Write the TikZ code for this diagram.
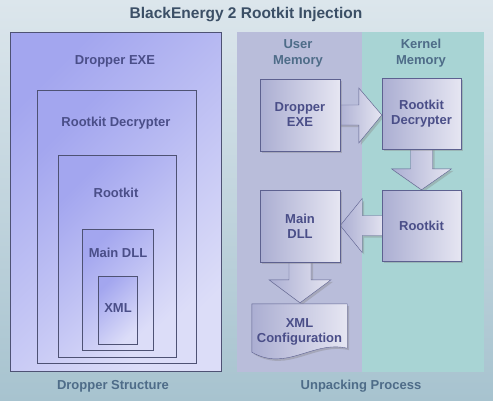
\documentclass[tikz,border=0pt]{standalone}
\usepackage{fontspec}
\setmainfont{Liberation Sans}
\usetikzlibrary{%
  calc,%
  shadows,% wg. drop shadow
  positioning%
}

\definecolor{bgtop}{HTML}{DCE6EC}
\definecolor{bgbot}{HTML}{A7C3CF}
\definecolor{lavdark}{HTML}{A3A6EF}
\definecolor{lavlight}{HTML}{DCDDF8}
\definecolor{nestline}{HTML}{4E5274}
\definecolor{userband}{HTML}{B9BDDA}
\definecolor{kernband}{HTML}{A8D4D4}
\definecolor{boxl}{HTML}{ABAED2}
\definecolor{boxr}{HTML}{E6E6F2}
\definecolor{boxline}{HTML}{5D6190}
\definecolor{labelc}{HTML}{4A4E88}
\definecolor{headc}{HTML}{4E6C88}
\definecolor{titlec}{HTML}{3B4F66}

\pgfdeclarelayer{back}
\pgfdeclarelayer{arrowlayer}
\pgfsetlayers{back,arrowlayer,main}

\begin{document}
\begin{tikzpicture}
[x=1pt, y=-1pt, line width=0.6pt,
lbl/.style={font=\fontsize{13}{15}\selectfont\bfseries, text=labelc, align=center},
head/.style={font=\fontsize{13}{16}\selectfont\bfseries, text=headc, align=center},
nest/.style={draw=nestline, line width=0.8pt, top color=lavdark, bottom color=lavlight, shading angle=45},
memshadow/.style={drop shadow={shadow xshift=2pt, shadow yshift=-2pt, opacity=0.35}},
memblock/.style={lbl, draw=boxline, left color=boxl, right color=boxr, minimum width=80, minimum height=72, inner sep=0pt, memshadow},
barrow/.style={draw=boxline, left color=boxl, right color=boxr, memshadow}]

\useasboundingbox (0,0) rectangle (493,400);
\begin{pgfonlayer}{back}
\shade[top color=bgtop, bottom color=bgbot] (0,0) rectangle (493,400);
\fill[userband] (237,32) rectangle (362,372);
\fill[kernband] (362,32) rectangle (484,372);
\end{pgfonlayer}

\node[font=\fontsize{15.5}{18}\selectfont\bfseries, text=titlec] (title) at (246,15) {BlackEnergy 2 Rootkit Injection};

% dropper structure
\draw[nest] (10,32) rectangle (221,371);
\draw[nest] (37,90) rectangle (196,363);
\draw[nest] (58,155) rectangle (176,357);
\draw[nest] (82,229) rectangle (153,350);
\draw[nest] (98,276) rectangle (137,344);
\node[lbl] (lexe) at (115,61) {Dropper EXE};
\node[lbl] (ldecr) at (116,123) {Rootkit Decrypter};
\node[lbl] (lkit) at (116,193) {Rootkit};
\node[lbl] (ldll) at (118,253) {Main DLL};
\node[lbl] (lxml) at (118,308) {XML};
\node[head] (dstruct) at (113,386) {Dropper Structure};

% unpacking process
\node[head] (usermem) at (298,53) {User\\Memory};
\node[head] (kernmem) at (421,53) {Kernel\\Memory};
\node[memblock] (dropexe) at (300,115) {Dropper\\EXE};
\node[memblock, minimum width=79, minimum height=71] (rdecr) at (421.5,113.5) {Rootkit\\Decrypter};
\node[memblock, minimum width=79, minimum height=71] (rkit) at (421.5,225.5) {Rootkit};
\node[memblock] (mdll) at (300,226) {Main\\DLL};
\node[lbl, minimum width=95, minimum height=56, inner sep=0pt] (xmlcfg) at (299.5,332) {XML\\Configuration};
\node[head] (unpack) at (361,386) {Unpacking Process};

\begin{pgfonlayer}{arrowlayer}
\draw[barrow] ($(dropexe.east)+(-4,-10)$) -- ($(dropexe.east-|rdecr.west)+(-23,-10)$) -- ++(0,-17)
  -- (dropexe.east-|rdecr.west) -- ++(-23,28) -- ++(0,-18) -- ($(dropexe.east)+(-4,10)$) -- cycle;
\draw[barrow] ($(rdecr.south)+(-11,-4)$) -- ($(rdecr.south|-rkit.north)+(-11,-21)$) -- ++(-19,0)
  -- (rdecr.south|-rkit.north) -- ++(30,-21) -- ++(-19,0) -- ($(rdecr.south)+(11,-4)$) -- cycle;
\draw[barrow] ($(rkit.west)+(4,-10)$) -- ($(rkit.west-|mdll.east)+(22,-10)$) -- ++(0,-17)
  -- (rkit.west-|mdll.east) -- ++(22,27) -- ++(0,-17) -- ($(rkit.west)+(4,10)$) -- cycle;
\draw[barrow] ($(mdll.south)+(-11,-4)$) -- ($(mdll.south|-xmlcfg.north)+(-11,-24)$) -- ++(-20,0)
  -- ($(mdll.south|-xmlcfg.north)+(0,-1)$) -- ++(31,-23) -- ++(-20,0) -- ($(mdll.south)+(11,-4)$) -- cycle;
% document shape
\draw[barrow] (xmlcfg.north west) -- (xmlcfg.north east) -- ($(xmlcfg.south east)+(0,-12)$)
  .. controls ($(xmlcfg.south east)+(-35,-20)$) and ($(xmlcfg.south west)+(35,12)$) .. ($(xmlcfg.south west)+(0,-8)$) -- cycle;
\end{pgfonlayer}
\end{tikzpicture}
\end{document}
